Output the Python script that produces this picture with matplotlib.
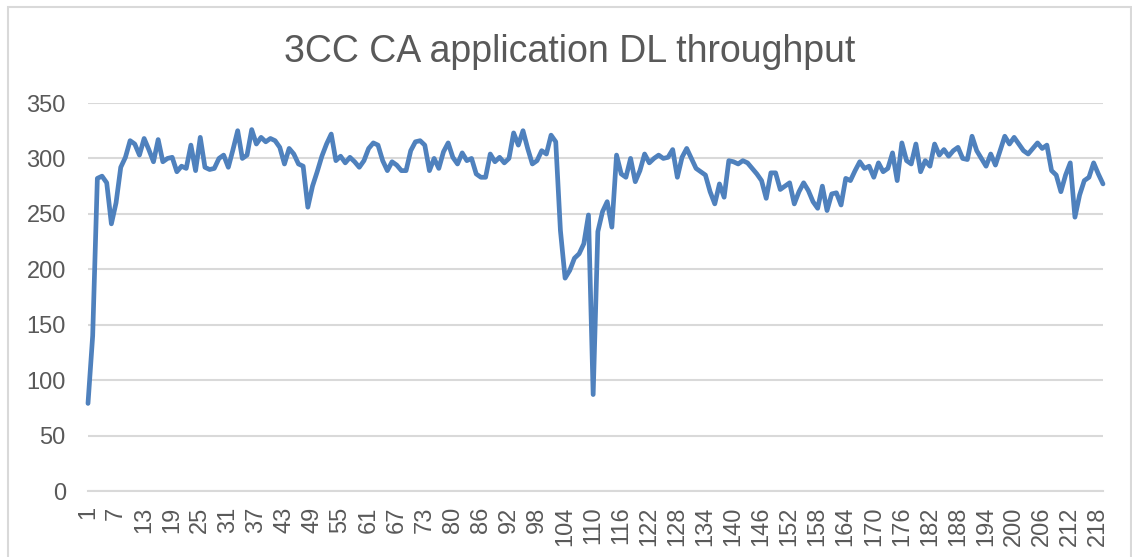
import numpy as np
import matplotlib.pyplot as plt
from matplotlib.patches import Rectangle

# %% data
# throughput values, one per sample
throughput = [
    79, 140, 282, 284, 278, 241, 260, 292, 301, 316,
    313, 303, 318, 308, 297, 317, 297, 300, 301, 288,
    293, 291, 312, 289, 319, 292, 290, 291, 300, 303,
    292, 308, 325, 300, 303, 326, 313, 319, 315, 318,
    316, 310, 295, 309, 304, 295, 293, 256, 275, 288,
    302, 313, 322, 298, 302, 296, 301, 297, 292, 298,
    309, 314, 312, 298, 289, 297, 294, 289, 289, 307,
    315, 316, 312, 289, 300, 291, 306, 314, 301, 295,
    305, 298, 300, 286, 283, 283, 304, 297, 301, 296,
    300, 323, 312, 325, 309, 295, 298, 307, 304, 321,
    315, 235, 192, 199, 210, 214, 223, 249, 87, 234,
    252, 261, 238, 303, 286, 283, 300, 279, 289, 304,
    296, 300, 303, 300, 301, 308, 283, 301, 309, 300,
    291, 288, 285, 270, 259, 277, 265, 298, 297, 295,
    298, 296, 291, 286, 280, 264, 287, 287, 272, 275,
    278, 259, 270, 278, 271, 261, 255, 275, 253, 268,
    269, 258, 282, 280, 289, 297, 291, 293, 283, 296,
    288, 291, 305, 280, 314, 298, 295, 313, 288, 298,
    293, 313, 303, 308, 302, 307, 310, 300, 299, 320,
    307, 300, 293, 304, 294, 307, 320, 313, 319, 313,
    307, 304, 309, 314, 309, 312, 289, 285, 270, 285,
    296, 247, 267, 280, 283, 296, 286, 277,
]

# category labels: sample 79 is missing from the source sheet
categories = [str(c) for c in list(range(1, 79)) + list(range(80, 220))]
title = '3CC CA application DL throughput'

# %% figure
plt.rcParams['font.family'] = ['Liberation Sans', 'DejaVu Sans']
txt = '#595959'
grid_c = '#d9d9d9'
W, H = 1132, 557

fig = plt.figure(figsize=(W / 100, H / 100), dpi=100)
ax = fig.add_axes([88 / W, 1 - 491 / H, (1103 - 88) / W, (491 - 103) / H])

pos = np.arange(len(throughput))
ax.plot(pos, throughput, color='#4f81bd', lw=3.4, solid_joinstyle='round',
        solid_capstyle='round', zorder=3, clip_on=False)

# axes
ax.set_xlim(0, len(throughput) - 1)
ax.set_ylim(0, 350)
ax.set_yticks(np.arange(0, 351, 50))
ax.set_xticks(pos[::6])
ax.set_xticklabels(categories[::6], rotation=90)
ax.tick_params(axis='both', length=0, labelsize=17, labelcolor=txt)
ax.tick_params(axis='x', pad=11)
ax.tick_params(axis='y', pad=16)

ax.grid(True, axis='y', color=grid_c, lw=1.5, zorder=0)
for s in ['top', 'right', 'left']:
    ax.spines[s].set_visible(False)
ax.spines['bottom'].set_color(grid_c)
ax.spines['bottom'].set_linewidth(1.5)

# title
fig.text(570 / W, 1 - 62 / H, title, ha='center', va='baseline',
         fontsize=27, color=txt)

# chart area border
fig.patches.append(Rectangle((8 / W, -0.01), (1131 - 8) / W, 1 - 7 / H + 0.01,
                             transform=fig.transFigure, fill=False,
                             edgecolor=grid_c, lw=1.5))

plt.savefig('out.png', dpi=100)
